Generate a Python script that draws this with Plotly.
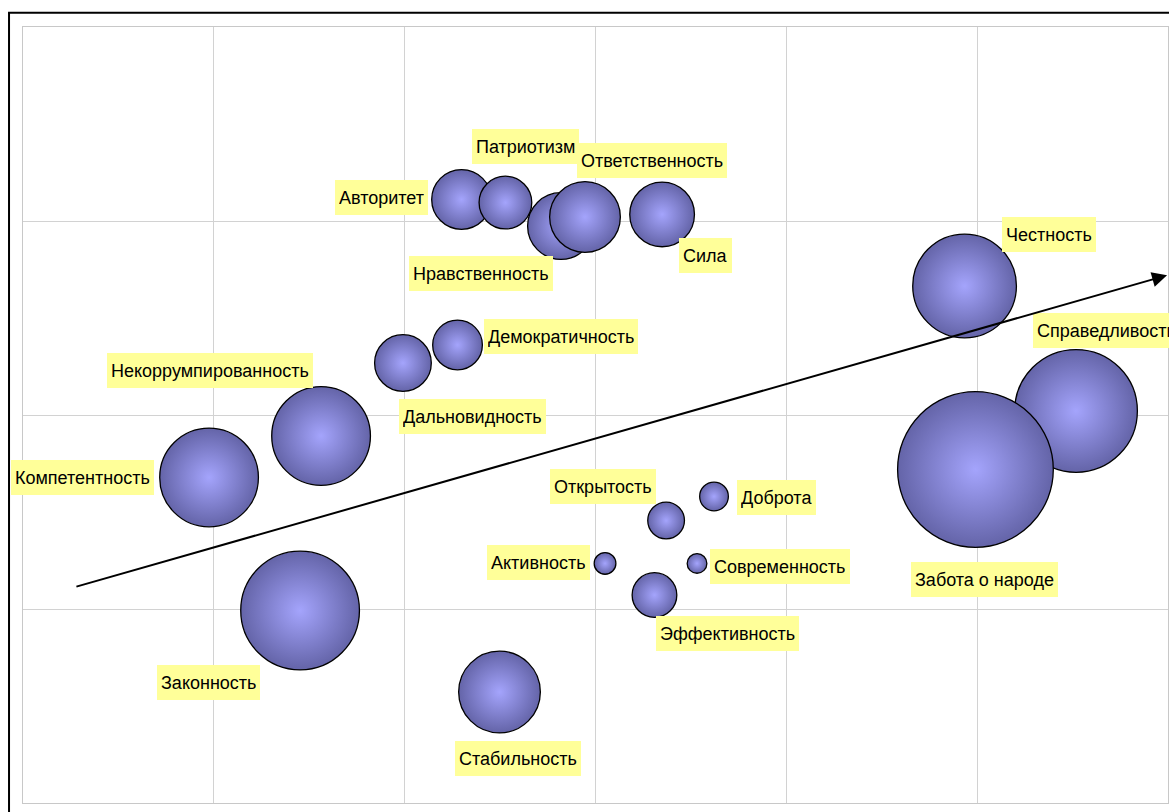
import plotly.graph_objects as go

# ---- data ----
labels = ["Авторитет", "Патриотизм", "Нравственность", "Ответственность", "Сила",
          "Честность", "Справедливость", "Забота о народе", "Демократичность",
          "Дальновидность", "Некоррумпированность", "Компетентность", "Законность",
          "Стабильность", "Открытость", "Доброта", "Активность", "Современность",
          "Эффективность"]
x_vals = [2.298, 2.528, 2.819, 2.945, 3.349,
          4.934, 5.518, 4.991, 2.277,
          1.991, 1.562, 0.975, 1.452,
          2.497, 3.370, 3.621, 3.050, 3.532,
          3.309]
y_vals = [3.111, 3.095, 2.974, 3.021, 3.034,
          2.665, 2.021, 1.719, 2.361,
          2.268, 1.892, 1.678, 0.992,
          0.572, 1.456, 1.580, 1.235, 1.235,
          1.072]
bubble_sizes = [61, 54, 68, 72, 66,
                105, 124, 157, 51,
                58, 100, 100, 120,
                83, 38, 30, 23, 21,
                46]
trend_start = (0.272, 1.113)
trend_end = (5.995, 2.72)

# ---- label placement (pixel offsets from bubble centre) ----
label_offsets = {
    "Авторитет": (-80, 2), "Патриотизм": (20, 56), "Нравственность": (-80, -47),
    "Ответственность": (67, 56), "Сила": (43, -41), "Честность": (84, 51),
    "Справедливость": (30, 80), "Забота о народе": (9, -110),
    "Демократичность": (103, 8), "Дальновидность": (70, -53),
    "Некоррумпированность": (-111, 65), "Компетентность": (-127, 0),
    "Законность": (-92, -72), "Стабильность": (18, -66), "Открытость": (-63, 34),
    "Доброта": (62, -1), "Активность": (-67, 1), "Современность": (83, -3),
    "Эффективность": (73, -38),
}

FONT = "Arial, 'Liberation Sans', sans-serif"
LINE_W = 1.3

fig = go.Figure()
fig.add_trace(go.Scatter(
    x=x_vals, y=y_vals, mode="markers",
    marker=dict(
        size=[s - LINE_W for s in bubble_sizes], sizemode="diameter", sizeref=1,
        color="#6464a8",
        gradient=dict(type="radial", color="#a4a4fc"),
        line=dict(color="black", width=LINE_W),
        opacity=1,
    ),
    hoverinfo="text", text=labels, cliponaxis=False,
))

annotations = []
for lab, xv, yv in zip(labels, x_vals, y_vals):
    dx, dy = label_offsets[lab]
    annotations.append(dict(
        x=xv, y=yv, xref="x", yref="y", text=lab, showarrow=False,
        xshift=dx, yshift=dy, bgcolor="#ffff99", borderpad=4, borderwidth=0,
        height=27, valign="middle",
        font=dict(family=FONT, size=18, color="black"),
    ))

annotations.append(dict(
    x=trend_end[0], y=trend_end[1], ax=trend_start[0], ay=trend_start[1],
    xref="x", yref="y", axref="x", ayref="y", text="",
    showarrow=True, arrowhead=2, arrowsize=1.5, arrowwidth=2, arrowcolor="black",
))

fig.update_layout(
    width=1169, height=812,
    margin=dict(l=23, r=1, t=27, b=9),
    paper_bgcolor="white", plot_bgcolor="white",
    showlegend=False,
    annotations=annotations,
    shapes=[dict(type="rect", xref="paper", yref="paper",
                 x0=-0.0122, x1=1.03, y0=-0.05, y1=1.0183,
                 line=dict(color="black", width=2), layer="below")],
)
axis_style = dict(showticklabels=False, ticks="", zeroline=False, showgrid=True,
                  gridcolor="#d2d2d2", gridwidth=1, showline=True, mirror=True,
                  linecolor="#c8c8c8", linewidth=1, dtick=1, fixedrange=True)
fig.update_xaxes(range=[0, 6], **axis_style)
fig.update_yaxes(range=[0, 4], **axis_style)

fig.write_html(
    "out.html",
    config={"displayModeBar": False},
    post_script="document.body.style.margin='0';document.body.style.overflow='hidden';",
)
